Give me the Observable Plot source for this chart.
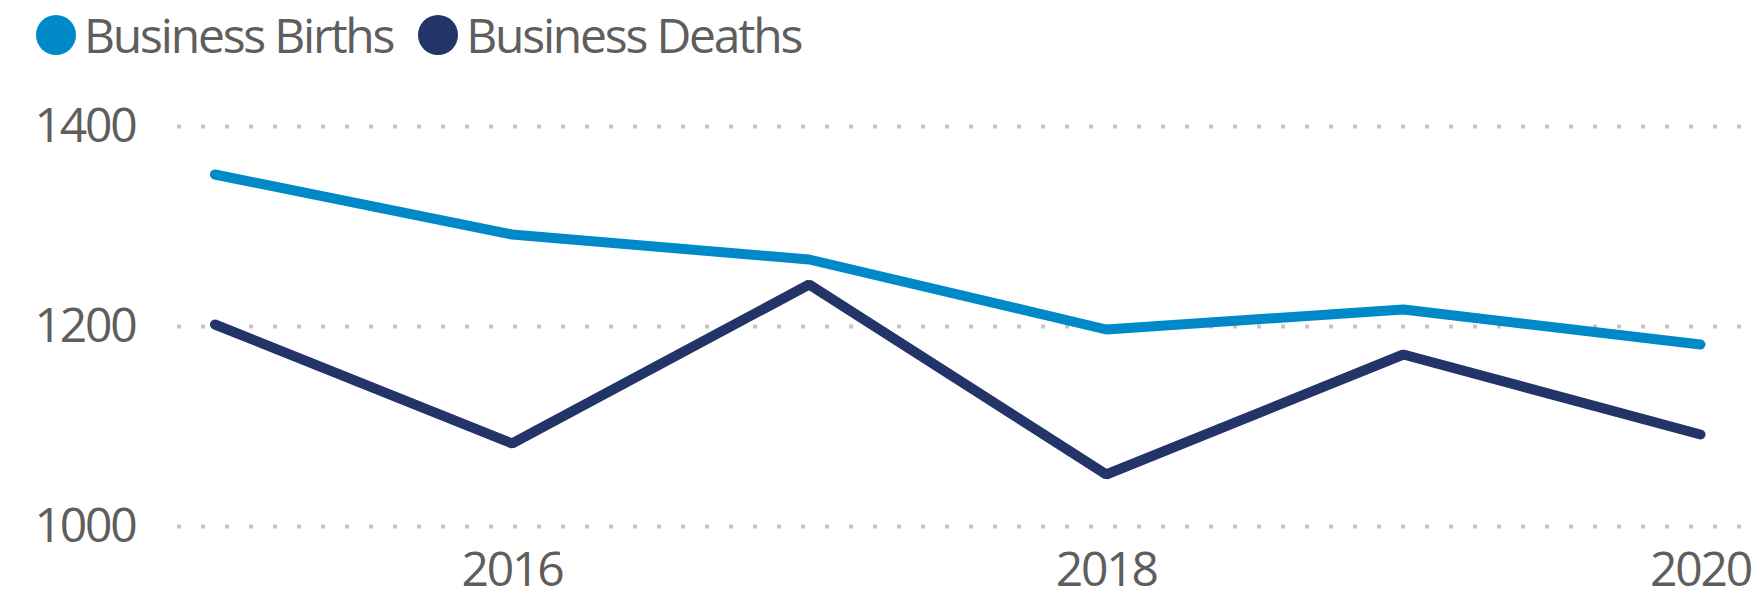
<!DOCTYPE html>
<html><head><meta charset="utf-8">
<script src="https://cdn.jsdelivr.net/npm/d3@7"></script>
<script src="https://cdn.jsdelivr.net/npm/@observablehq/plot@0.6"></script>
<style>
html,body{margin:0;padding:0;background:#fff;}
body{font-family:"Open Sans",sans-serif;color:#605E5C;width:1752px;height:600px;overflow:hidden;}
#legend{height:62px;padding-top:4px;display:flex;align-items:center;font-size:48px;line-height:1;letter-spacing:-2.2px;}
.item{display:flex;align-items:center;}
.sw{width:40px;height:40px;border-radius:50%;margin-right:8px;}
#chart svg text{letter-spacing:-2.2px;}
</style></head><body>
<div id="legend"></div>
<div id="chart"></div>
<script>
const years = [2015, 2016, 2017, 2018, 2019, 2020];
const births = [1352, 1292, 1267, 1197, 1217, 1182];
const deaths = [1202, 1083, 1242, 1052, 1172, 1092];
const seriesNames = ["Business Births", "Business Deaths"];
const seriesColors = ["#0089C9", "#233468"];
const yTicks = [1000, 1200, 1400];
const xTicks = [2016, 2018, 2020];

const data = years.flatMap((yr, i) => [
  {year: yr, value: births[i], series: seriesNames[0]},
  {year: yr, value: deaths[i], series: seriesNames[1]}
]);

const legend = document.getElementById("legend");
seriesNames.forEach((name, i) => {
  const item = document.createElement("div");
  item.className = "item";
  item.style.marginLeft = i === 0 ? "36px" : "25px";
  const sw = document.createElement("span");
  sw.className = "sw";
  sw.style.background = seriesColors[i];
  const t = document.createElement("span");
  t.textContent = name;
  item.appendChild(sw);
  item.appendChild(t);
  legend.appendChild(item);
});

const chart = Plot.plot({
  width: 1752,
  height: 534,
  marginLeft: 177,
  marginRight: 0,
  marginTop: 60,
  marginBottom: 74,
  x: {domain: [2014.874, 2020.175], ticks: xTicks, tickFormat: d => String(d), tickSize: 0, tickPadding: 25, label: null},
  y: {domain: [1000, 1400], ticks: yTicks, tickFormat: d => String(d), tickSize: 0, tickPadding: 42, label: null},
  color: {domain: seriesNames, range: seriesColors},
  style: {fontFamily: '"Open Sans", sans-serif', fontSize: "48px", color: "#605E5C", background: "#fff", overflow: "visible"},
  marks: [
    Plot.ruleY(yTicks, {stroke: "#C8C6C4", strokeWidth: 4, strokeDasharray: "4 20"}),
    Plot.line(data, {x: "year", y: "value", z: "series", stroke: "series", strokeWidth: 10, strokeLinecap: "round", strokeLinejoin: "miter"})
  ]
});
document.getElementById("chart").appendChild(chart);
</script>
</body></html>
